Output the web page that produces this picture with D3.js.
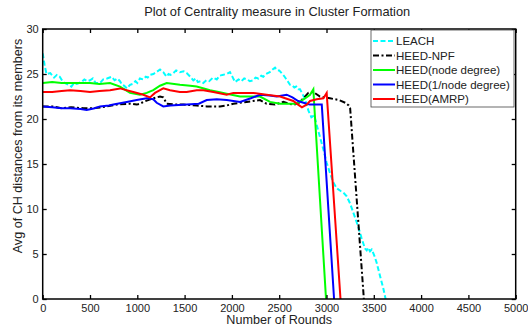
<!DOCTYPE html>
<html>
<head>
<meta charset="utf-8">
<script src="https://cdn.jsdelivr.net/npm/d3@7"></script>
<style>
  body { margin: 0; background: #fff; }
  text { font-family: "Liberation Sans", Arial, sans-serif; fill: #222; }
</style>
</head>
<body>
<div id="chart"></div>
<script>
    // Data: [round, avg distance]
    const leach = [
      [0, 27.3], [20, 26.0], [40, 25.0], [80, 25.1], [120, 24.6], [150, 24.9], [180, 24.7], [210, 24.2],
      [232, 24.0], [270, 23.8], [303, 23.6], [330, 24.0], [360, 23.9], [408, 24.1], [440, 24.4],
      [470, 24.2], [500, 24.3], [530, 24.5], [560, 24.0], [606, 24.0], [640, 24.4], [680, 24.5],
      [729, 24.7], [760, 24.3], [790, 24.5], [817, 24.2], [840, 23.8], [860, 23.7], [890, 23.4],
      [923, 23.8], [950, 23.9], [980, 24.2], [1000, 24.0], [1028, 24.5], [1060, 24.4], [1090, 24.7],
      [1110, 24.6], [1134, 24.9], [1170, 25.0], [1200, 25.2], [1240, 25.5], [1260, 25.3], [1275, 25.2],
      [1295, 24.9], [1311, 24.7], [1330, 25.0], [1350, 24.9], [1381, 25.1], [1410, 25.4], [1450, 25.2],
      [1490, 25.3], [1522, 25.1], [1560, 24.7], [1592, 24.3], [1620, 24.5], [1640, 24.1], [1670, 24.2],
      [1698, 24.0], [1730, 24.3], [1760, 24.2], [1800, 24.6], [1840, 24.4], [1870, 24.8], [1900, 24.9],
      [1945, 25.0], [1980, 25.2], [2010, 24.6], [2033, 24.1], [2070, 24.4], [2100, 24.2], [2130, 24.5],
      [2160, 24.4], [2190, 24.2], [2226, 24.3], [2250, 24.6], [2280, 24.5], [2310, 24.8], [2332, 24.7],
      [2360, 25.0], [2400, 25.2], [2430, 25.5], [2456, 25.7], [2480, 25.4], [2500, 25.4], [2526, 25.1],
      [2550, 24.8], [2570, 24.5], [2590, 24.2], [2614, 23.8], [2640, 23.7], [2660, 23.5], [2680, 23.6],
      [2702, 23.3], [2720, 23.3], [2740, 22.9], [2770, 22.3], [2790, 21.6], [2810, 20.9], [2840, 20.2],
      [2870, 20.4], [2900, 19.2], [2931, 18.0], [2970, 16.5], [3000, 15.2], [3037, 14.0], [3070, 13.0],
      [3108, 12.3], [3150, 12.0], [3180, 11.8], [3214, 11.4], [3250, 10.6], [3290, 9.4], [3336, 8.0],
      [3370, 6.8], [3407, 5.6], [3425, 5.4], [3440, 5.7], [3460, 5.3], [3478, 5.5], [3510, 4.7],
      [3531, 4.0], [3570, 2.4], [3600, 1.2], [3625, 0]
    ];
    const heedNpf = [
      [0, 21.4], [100, 21.4], [200, 21.2], [300, 21.3], [430, 21.2], [535, 21.2], [620, 21.3],
      [676, 21.4], [782, 21.6], [923, 21.7], [994, 21.6], [1028, 21.7], [1064, 21.9], [1169, 22.3],
      [1240, 22.5], [1275, 22.4], [1311, 21.7], [1416, 21.6], [1486, 21.6], [1628, 21.5], [1734, 21.4],
      [1874, 21.4], [1945, 21.5], [2015, 21.7], [2156, 21.9], [2297, 22.1], [2367, 21.7], [2456, 21.6],
      [2543, 21.9], [2600, 21.7], [2649, 21.6], [2700, 21.7], [2755, 22.3], [2808, 22.9], [2861, 23.0],
      [2931, 22.5], [3037, 22.3], [3134, 22.1], [3200, 21.8], [3235, 21.5], [3250, 21.2], [3395, 0]
    ];
    const heedDeg = [
      [0, 24.0], [100, 24.1], [200, 24.0], [300, 24.0], [400, 24.0], [500, 24.0], [600, 23.9],
      [712, 24.0], [817, 23.6], [923, 22.9], [1028, 22.7], [1100, 22.9], [1169, 23.2], [1240, 23.7],
      [1311, 24.0], [1451, 23.8], [1560, 23.7], [1628, 23.6], [1769, 23.2], [1860, 23.0], [1945, 22.8],
      [2086, 22.5], [2200, 22.5], [2297, 22.5], [2403, 21.9], [2509, 21.7], [2600, 21.7], [2685, 21.7],
      [2773, 22.3], [2826, 22.7], [2861, 23.3], [2868, 22.0], [2995, 0]
    ];
    const heedInvDeg = [
      [0, 21.4], [100, 21.3], [200, 21.2], [289, 21.2], [400, 21.1], [465, 21.0], [550, 21.2],
      [606, 21.4], [700, 21.5], [747, 21.6], [888, 21.9], [994, 22.1], [1099, 22.3], [1169, 22.2],
      [1205, 21.8], [1275, 21.4], [1350, 21.5], [1522, 21.6], [1650, 21.7], [1734, 22.1], [1840, 22.2],
      [1945, 22.1], [2086, 21.9], [2200, 22.3], [2297, 22.7], [2400, 22.6], [2473, 22.5], [2579, 22.7],
      [2640, 22.4], [2700, 22.0], [2790, 21.7], [2826, 21.6], [2950, 21.6], [3080, 0]
    ];
    const heedAmrp = [
      [0, 23.0], [100, 23.0], [200, 23.1], [289, 23.2], [400, 23.1], [500, 23.0], [600, 23.1],
      [712, 23.2], [817, 23.4], [958, 23.0], [1064, 22.7], [1134, 22.4], [1187, 22.9], [1240, 23.2],
      [1275, 23.4], [1346, 23.2], [1450, 23.0], [1522, 23.0], [1628, 23.2], [1700, 23.2], [1804, 23.0],
      [1945, 22.7], [2015, 22.9], [2226, 22.9], [2367, 22.7], [2509, 22.5], [2649, 22.0], [2700, 21.6],
      [2740, 21.3], [2790, 21.6], [2826, 22.0], [2896, 22.2], [2967, 22.3], [3002, 22.9], [3005, 22.4],
      [3148, 0]
    ];

    const seriesNames = ["LEACH", "HEED-NPF", "HEED(node degree)", "HEED(1/node degree)", "HEED(AMRP)"];
    const seriesData = [leach, heedNpf, heedDeg, heedInvDeg, heedAmrp];
    const seriesColors = ["#00ffff", "#000000", "#00ff00", "#0000ff", "#ff0000"];
    const seriesDash = ["5,2.5", "6,2.5,2,2.5", null, null, null];

    const xTicks = [0, 500, 1000, 1500, 2000, 2500, 3000, 3500, 4000, 4500, 5000];
    const yTicks = [0, 5, 10, 15, 20, 25, 30];

    const width = 528, height = 326;
    const margin = { top: 29, right: 12.3, bottom: 27, left: 42.7 };
    const iw = width - margin.left - margin.right;
    const ih = height - margin.top - margin.bottom;

    const svg = d3.select("#chart").append("svg")
      .attr("width", width)
      .attr("height", height);

    const x = d3.scaleLinear().domain([0, 5000]).range([margin.left, margin.left + iw]);
    const y = d3.scaleLinear().domain([0, 30]).range([margin.top + ih, margin.top]);

    // Lines (clipped to plot area)
    svg.append("clipPath").attr("id", "clip")
      .append("rect")
      .attr("x", margin.left).attr("y", margin.top)
      .attr("width", iw).attr("height", ih);

    const line = d3.line().x(d => x(d[0])).y(d => y(d[1]));

    const lines = svg.append("g").attr("clip-path", "url(#clip)");
    // draw in order so red ends on top
    seriesData.forEach((s, i) => {
      lines.append("path")
        .datum(s)
        .attr("d", line)
        .attr("fill", "none")
        .attr("stroke", seriesColors[i])
        .attr("stroke-width", 2)
        .attr("stroke-dasharray", seriesDash[i]);
    });

    // Axes, MATLAB style: ticks inward on all four sides
    const tickLen = 4;
    const fmt = d3.format("d");
    svg.append("g")
      .attr("transform", `translate(0,${margin.top + ih})`)
      .call(d3.axisBottom(x).tickValues(xTicks).tickFormat(fmt).tickSizeInner(-tickLen).tickSizeOuter(0).tickPadding(5))
      .call(g => g.select(".domain").remove());
    svg.append("g")
      .attr("transform", `translate(0,${margin.top})`)
      .call(d3.axisTop(x).tickValues(xTicks).tickSizeInner(-tickLen).tickSizeOuter(0).tickFormat(""))
      .call(g => g.select(".domain").remove());
    svg.append("g")
      .attr("transform", `translate(${margin.left},0)`)
      .call(d3.axisLeft(y).tickValues(yTicks).tickFormat(fmt).tickSizeInner(-tickLen).tickSizeOuter(0).tickPadding(4))
      .call(g => g.select(".domain").remove());
    svg.append("g")
      .attr("transform", `translate(${margin.left + iw},0)`)
      .call(d3.axisRight(y).tickValues(yTicks).tickSizeInner(-tickLen).tickSizeOuter(0).tickFormat(""))
      .call(g => g.select(".domain").remove());

    svg.selectAll(".tick line").attr("stroke", "#000").attr("stroke-width", 1.3);
    svg.selectAll(".tick text")
      .style("font-family", "'Liberation Sans', Arial, sans-serif")
      .style("font-size", "11px")
      .attr("fill", "#222");

    svg.append("rect")
      .attr("x", margin.left).attr("y", margin.top)
      .attr("width", iw).attr("height", ih)
      .attr("fill", "none")
      .attr("stroke", "#000")
      .attr("stroke-width", 1.5);

    // Title and axis labels
    svg.append("text")
      .attr("x", margin.left + iw / 2 - 2)
      .attr("y", 16)
      .attr("text-anchor", "middle")
      .style("font-size", "12.8px")
      .text("Plot of Centrality measure in Cluster Formation");

    svg.append("text")
      .attr("x", margin.left + iw / 2)
      .attr("y", 324)
      .attr("text-anchor", "middle")
      .style("font-size", "12.6px")
      .text("Number of Rounds");

    svg.append("text")
      .attr("transform", "translate(22,146) rotate(-90)")
      .attr("text-anchor", "middle")
      .style("font-size", "12.6px")
      .text("Avg of CH distances from its members");

    // Legend
    const legend = svg.append("g");
    legend.append("rect")
      .attr("x", 371).attr("y", 30)
      .attr("width", 143).attr("height", 77)
      .attr("fill", "#fff")
      .attr("stroke", "#444")
      .attr("stroke-width", 0.8);

    seriesNames.forEach((name, i) => {
      const ly = 41 + i * 14.5;
      legend.append("line")
        .attr("x1", 373).attr("x2", 395)
        .attr("y1", ly).attr("y2", ly)
        .attr("stroke", seriesColors[i])
        .attr("stroke-width", 2)
        .attr("stroke-dasharray", seriesDash[i]);
      legend.append("text")
        .attr("x", 396)
        .attr("y", ly + 4)
        .style("font-size", "11.5px")
        .text(name);
    });
</script>
</body>
</html>
